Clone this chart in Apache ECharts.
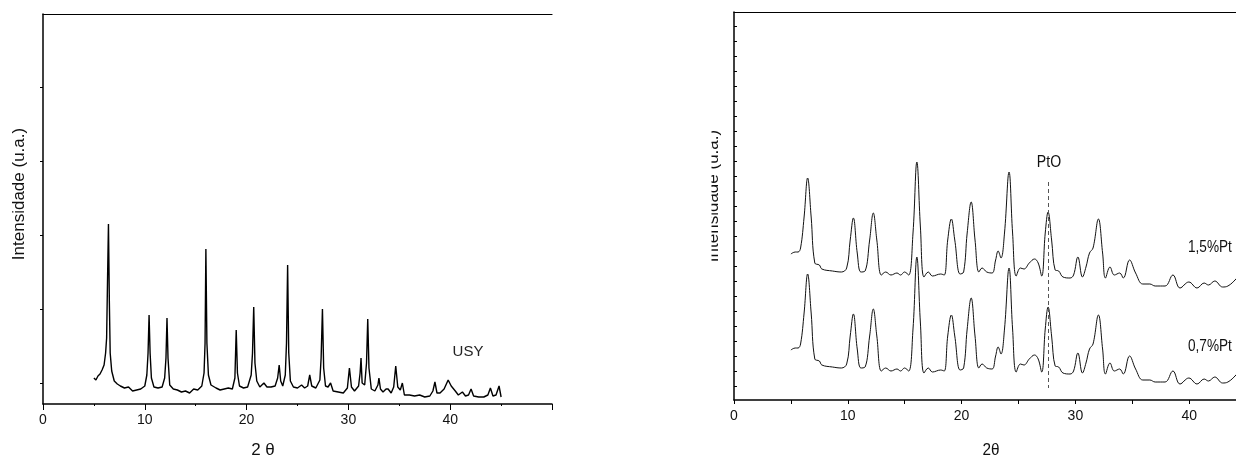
<!DOCTYPE html>
<html>
<head>
<meta charset="utf-8">
<script src="https://cdn.jsdelivr.net/npm/echarts@6/dist/echarts.min.js"></script>
<style>
  html, body { margin: 0; padding: 0; background: #fff; }
  #chart { width: 1236px; height: 457px; }
</style>
</head>
<body>
<div id="chart"></div>
<script>
// USY difractogram (left panel)
const usyTheta = [
  5.0, 5.2, 5.4, 5.6, 5.8, 6.0, 6.15, 6.25, 6.35, 6.43,
  6.52, 6.6, 6.75, 7.0, 7.3, 7.6, 8.0, 8.4, 8.8, 9.2,
  9.6, 10.0, 10.2, 10.32, 10.42, 10.52, 10.65, 10.9, 11.3, 11.7,
  11.95, 12.08, 12.18, 12.28, 12.45, 12.8, 13.2, 13.6, 14.0, 14.4,
  14.8, 15.2, 15.6, 15.82, 15.92, 16.0, 16.1, 16.25, 16.5, 17.0,
  17.4, 17.8, 18.2, 18.6, 18.85, 18.98, 19.1, 19.3, 19.7, 20.1,
  20.45, 20.58, 20.7, 20.82, 21.0, 21.3, 21.7, 22.0, 22.4, 22.8,
  23.05, 23.2, 23.35, 23.55, 23.8, 23.92, 24.03, 24.14, 24.3, 24.6,
  25.0, 25.4, 25.7, 26.0, 26.2, 26.4, 26.8, 27.2, 27.32, 27.45,
  27.57, 27.75, 28.0, 28.25, 28.5, 29.0, 29.5, 29.9, 30.1, 30.3,
  30.6, 31.0, 31.15, 31.24, 31.35, 31.6, 31.78, 31.9, 32.02, 32.25,
  32.6, 32.9, 33.0, 33.15, 33.4, 33.7, 33.9, 34.2, 34.45, 34.65,
  34.85, 35.1, 35.3, 35.5, 36.0, 36.5, 37.0, 37.5, 38.0, 38.3,
  38.5, 38.7, 39.0, 39.4, 39.8, 40.1, 40.5, 40.8, 41.2, 41.5,
  41.8, 42.05, 42.3, 42.8, 43.3, 43.7, 43.95, 44.2, 44.5, 44.8,
  45.0
];
const usyI = [
  5, 3, 7, 9, 13, 18, 30, 45, 110, 159,
  80, 30, 12, 2, -1, -3, -5, -4, -8, -7,
  -6, -3, 8, 30, 68, 30, 5, -4, -5, -4,
  5, 25, 65, 25, -2, -6, -7, -9, -8, -10,
  -6, -7, -3, 10, 40, 134, 40, 8, -2, -5,
  -7, -6, -5, -6, 5, 53, 10, -3, -5, -4,
  8, 30, 76, 20, 2, -4, 0, -4, -4, -3,
  5, 18, 2, -3, 8, 40, 118, 30, 2, -4,
  -5, -2, -5, -3, 8, -3, -5, 3, 25, 74,
  15, -3, -4, 0, -8, -9, -10, -5, 15, -4,
  -8, -3, 10, 25, 0, -2, 20, 64, 15, -6,
  -8, -2, 5, -6, -9, -6, -6, -10, -4, 17,
  -4, -7, 0, -12, -12, -13, -12, -14, -13, -8,
  1, -10, -10, -6, 3, -3, -8, -12, -9, -13,
  -12, -6, -13, -14, -14, -12, -5, -13, -12, -3,
  -14
];

// Pt/USY difractograms (right panel), shared 2theta grid
const ptTheta = [
  5.0, 5.38, 5.63, 5.85, 6.16, 6.47, 6.78, 7.1, 7.5, 7.72,
  8.65, 9.43, 9.9, 10.21, 10.49, 10.83, 11.15, 11.52, 11.92, 12.24,
  12.55, 12.95, 13.33, 13.79, 14.32, 14.64, 14.98, 15.35, 15.73, 16.07,
  16.38, 16.7, 17.07, 17.44, 18.16, 18.47, 18.78, 19.1, 19.4, 19.87,
  20.18, 20.49, 20.84, 21.18, 21.52, 21.8, 22.21, 22.68, 22.99, 23.21,
  23.46, 23.77, 24.17, 24.48, 24.8, 25.17, 25.48, 25.95, 26.41, 26.73,
  27.04, 27.35, 27.6, 27.91, 28.22, 28.53, 28.91, 29.53, 29.84, 30.22,
  30.62, 30.93, 31.24, 31.55, 32.02, 32.39, 32.64, 33.04, 33.42, 33.89,
  34.21, 34.76, 35.29, 35.92, 36.54, 37.01, 37.88, 38.57, 39.19, 39.97,
  40.69, 41.31, 41.69, 42.25, 42.93, 43.4, 44.11, 44.6
];
const pt15 = [
  132, 134, 134, 138, 169, 208, 169, 123, 121, 117,
  115, 114, 118, 146, 168, 133, 114, 115, 146, 173,
  146, 111, 114, 111, 113, 111, 114, 111, 153, 224,
  159, 109, 114, 110, 112, 111, 146, 167, 146, 112,
  114, 153, 184, 146, 114, 118, 114, 113, 126, 135,
  128, 153, 214, 153, 110, 118, 117, 123, 127, 123,
  110, 153, 174, 146, 116, 115, 109, 108, 111, 129,
  109, 119, 133, 138, 167, 133, 108, 119, 111, 113,
  108, 126, 113, 102, 102, 100, 100, 111, 98, 104,
  98, 103, 101, 105, 99, 100, 107, 114
];
const pt07 = [
  36, 38, 38, 42, 73, 112, 73, 27, 25, 21,
  19, 18, 22, 50, 72, 37, 18, 19, 50, 77,
  50, 15, 18, 15, 17, 15, 18, 15, 57, 129,
  63, 13, 18, 14, 16, 15, 50, 71, 50, 16,
  18, 57, 88, 50, 18, 22, 18, 17, 30, 39,
  32, 57, 118, 57, 14, 22, 21, 27, 31, 27,
  14, 57, 79, 50, 20, 19, 13, 12, 15, 33,
  13, 23, 37, 42, 71, 37, 12, 23, 15, 17,
  12, 30, 17, 6, 6, 4, 4, 15, 2, 8,
  2, 7, 5, 9, 3, 4, 11, 18
];

const leftYTicks = [0, 74, 148, 222, 296];
const rightYTicks = [0, 15, 30, 45, 60, 75, 90, 105, 120, 135, 150, 165, 180,
  195, 210, 225, 240, 255, 270, 285, 300, 315, 330, 345, 360];
const ptoTheta = 27.6;

const font = "'Liberation Sans', Arial, sans-serif";

const pairs = (xs, ys) => xs.map((x, i) => [x, ys[i]]);

const chart = echarts.init(document.getElementById('chart'));

function bottomAxis(grid, tickLen, minorLen) {
  return {
    type: 'value', gridIndex: grid, min: 0, max: 50, interval: 10,
    position: 'bottom',
    axisLine: { onZero: false, lineStyle: { color: '#000', width: 1.5 } },
    axisTick: { inside: false, length: tickLen, lineStyle: { color: '#000', width: 1 } },
    minorTick: { show: true, splitNumber: 2, length: minorLen, lineStyle: { color: '#000', width: 1 } },
    axisLabel: { fontFamily: font, fontSize: 14, color: '#111', margin: 9, showMaxLabel: false },
    splitLine: { show: false }
  };
}
function topAxis(grid) {
  return {
    type: 'value', gridIndex: grid, min: 0, max: 50, position: 'top',
    axisLine: { onZero: false, lineStyle: { color: '#000', width: 1.2 } },
    axisTick: { show: false }, axisLabel: { show: false }, splitLine: { show: false }
  };
}
function label(text, x, y, size, opts) {
  return Object.assign({
    type: 'text', x: x, y: y,
    style: { text: text, font: size + 'px ' + font, fill: '#111', textAlign: 'center', textVerticalAlign: 'middle' }
  }, opts || {});
}

chart.setOption({
  animation: false,
  grid: [
    { left: 43, top: 14, right: 684, bottom: 53, containLabel: false, outerBoundsMode: 'none' },
    { left: 734, top: 12, right: -67, bottom: 57, containLabel: false, outerBoundsMode: 'none' }
  ],
  xAxis: [bottomAxis(0, 6, 2), topAxis(0), bottomAxis(1, 4, 4), topAxis(1)],
  yAxis: [
    {
      type: 'value', gridIndex: 0, min: -21, max: 369,
      axisLine: { show: true, lineStyle: { color: '#000', width: 1.5 } },
      axisTick: { show: true, inside: false, length: 3, customValues: leftYTicks, lineStyle: { color: '#000' } },
      axisLabel: { show: false }, splitLine: { show: false }
    },
    {
      type: 'value', gridIndex: 1, min: -14, max: 374,
      axisLine: { show: true, lineStyle: { color: '#000', width: 1.5 } },
      axisTick: { show: true, inside: true, length: 3, customValues: rightYTicks, lineStyle: { color: '#000' } },
      axisLabel: { show: false }, splitLine: { show: false }
    }
  ],
  series: [
    {
      name: 'USY', type: 'line', xAxisIndex: 0, yAxisIndex: 0,
      data: pairs(usyTheta, usyI), showSymbol: false,
      lineStyle: { color: '#000', width: 1.4 }
    },
    {
      name: '1,5%Pt', type: 'line', xAxisIndex: 2, yAxisIndex: 1,
      data: pairs(ptTheta, pt15), showSymbol: false, smooth: 0.4,
      lineStyle: { color: '#111', width: 1 },
      markLine: {
        silent: true, symbol: 'none', label: { show: false },
        lineStyle: { color: '#555', width: 1, type: [4, 3] },
        data: [[{ coord: [ptoTheta, 204] }, { coord: [ptoTheta, -2] }]]
      }
    },
    {
      name: '0,7%Pt', type: 'line', xAxisIndex: 2, yAxisIndex: 1,
      data: pairs(ptTheta, pt07), showSymbol: false, smooth: 0.4,
      lineStyle: { color: '#111', width: 1 }
    }
  ],
  graphic: [
    label('Intensidade (u.a.)', 19.5, 194, 17, { rotation: Math.PI / 2 }),
    label('2 θ', 263, 450, 17),
    label('USY', 468, 352, 15, { style: { text: 'USY', font: '15px ' + font, fill: '#222', textAlign: 'center', textVerticalAlign: 'middle' } }),
    // right panel axis title, cut off on its left side as in the source figure
    label('Intensidade (u.a.)', 713, 196, 17, { rotation: Math.PI / 2, z: 10 }),
    { type: 'rect', z: 20, shape: { x: 690, y: 90, width: 21.5, height: 220 }, style: { fill: '#fff' } },
    label('2θ', 991, 450, 17, { scaleX: 0.9 }),
    label('PtO', 1049, 162.5, 16, { scaleX: 0.88 }),
    label('1,5%Pt', 1188, 247.5, 16, { scaleX: 0.85, style: { text: '1,5%Pt', font: '16px ' + font, fill: '#111', textAlign: 'left', textVerticalAlign: 'middle' } }),
    label('0,7%Pt', 1188, 346.5, 16, { scaleX: 0.85, style: { text: '0,7%Pt', font: '16px ' + font, fill: '#111', textAlign: 'left', textVerticalAlign: 'middle' } })
  ]
});
</script>
</body>
</html>
